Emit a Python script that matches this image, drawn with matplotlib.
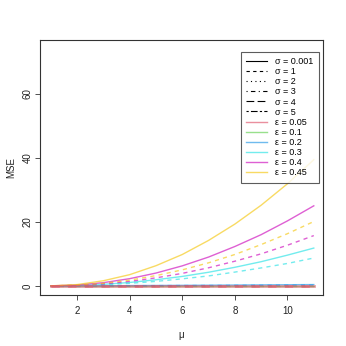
import matplotlib
matplotlib.use("Agg")
import matplotlib.pyplot as plt
from matplotlib.lines import Line2D

plt.rcParams['font.family'] = ['Liberation Sans', 'DejaVu Sans']

mu = [1, 2, 3, 4, 5, 6, 7, 8, 9, 10, 11]

sigmas = ["0.001", "1", "2", "3", "4", "5"]
sigma_styles = ["-", (0, (3, 3)), (0, (1, 3)), (0, (1, 3, 4, 3)), (0, (7, 3)), (0, (2, 2, 6, 2))]

eps_labels = ["0.05", "0.1", "0.2", "0.3", "0.4", "0.45"]
eps_colors = ["#DF536B", "#61D04F", "#2297E6", "#28E2E5", "#CD0BBC", "#F5C710"]

# MSE for sigma = 0.001 (solid), per epsilon
mse_s0 = {
    "0.05": [0, 0, 0, 0, 0, 0, 0, 0, 0, 0, 0],
    "0.1":  [0, 0, 0, 0, 0, 0, 0, 0, 0, 0, 0],
    "0.2":  [0, 0.02, 0.05, 0.08, 0.12, 0.16, 0.2, 0.25, 0.3, 0.35, 0.4],
    "0.3":  [0, 0.12, 0.47, 1.06, 1.9, 2.95, 4.25, 5.8, 7.55, 9.6, 11.8],
    "0.4":  [0, 0.25, 1.0, 2.25, 4.0, 6.25, 9.0, 12.3, 16.0, 20.3, 25.0],
    "0.45": [0, 0.4, 1.6, 3.5, 6.3, 9.8, 14.2, 19.3, 25.2, 31.9, 39.4],
}
# MSE for sigma = 1 (dashed), per epsilon
mse_s1 = {
    "0.05": [0, 0, 0, 0, 0, 0, 0, 0, 0, 0, 0],
    "0.1":  [0, 0, 0, 0, 0, 0, 0, 0, 0, 0, 0],
    "0.2":  [0, 0.01, 0.03, 0.05, 0.07, 0.1, 0.12, 0.15, 0.18, 0.21, 0.25],
    "0.3":  [0, 0.09, 0.35, 0.78, 1.4, 2.2, 3.1, 4.3, 5.6, 7.0, 8.7],
    "0.4":  [0, 0.16, 0.63, 1.4, 2.5, 3.9, 5.65, 7.7, 10.0, 12.7, 15.7],
    "0.45": [0, 0.2, 0.8, 1.8, 3.2, 5.0, 7.2, 9.8, 12.9, 16.3, 20.1],
}

fig = plt.figure(figsize=(3.46, 3.46), dpi=100)
ax = fig.add_axes([0.1165, 0.147, 0.8170, 0.7365])

order = ["0.1", "0.2", "0.3", "0.4", "0.45"]
for e in order:
    c = eps_colors[eps_labels.index(e)]
    ax.plot(mu, mse_s1[e], color=c, alpha=0.65, lw=1.0, linestyle=sigma_styles[1])
    ax.plot(mu, mse_s0[e], color=c, alpha=0.65, lw=1.0, linestyle=sigma_styles[0])
c = eps_colors[0]
ax.plot(mu, mse_s1["0.05"], color=c, alpha=0.55, lw=2.0, linestyle=sigma_styles[1])
ax.plot(mu, mse_s0["0.05"], color=c, alpha=0.55, lw=2.0, linestyle=sigma_styles[0])

ax.set_xlim(0.6, 11.35)
ax.set_ylim(-2.9, 76.7)
ax.set_xticks([2, 4, 6, 8, 10])
ax.set_yticks([0, 20, 40, 60])
ax.tick_params(axis='both', labelsize=7, length=3.6, width=0.6, color='#333333', labelcolor='#222222')
ax.tick_params(axis='x', pad=4.5)
ax.tick_params(axis='y', pad=2.0)
for lab in ax.get_yticklabels():
    lab.set_rotation(90)
    lab.set_va('center')
for s in ax.spines.values():
    s.set_linewidth(0.8)
    s.set_color('#333333')

ax.set_xlabel("μ", fontsize=7, labelpad=10, color='#222222')
ax.set_ylabel("MSE", fontsize=7, labelpad=8, color='#222222')
ax.yaxis.set_label_coords(-0.085, 0.5)

handles = []
labels = []
for s, ls in zip(sigmas, sigma_styles):
    handles.append(Line2D([], [], color='black', lw=0.8, linestyle=ls))
    labels.append("σ = " + s)
for e, c in zip(eps_labels, eps_colors):
    handles.append(Line2D([], [], color=c, lw=1.0, alpha=0.65))
    labels.append("ε = " + e)

leg = ax.legend(handles, labels, loc='upper right', bbox_to_anchor=(0.985, 0.955),
                fontsize=6.5, frameon=True, fancybox=False, edgecolor='#333333',
                handlelength=2.3, handletextpad=0.9, labelspacing=0.12,
                borderpad=0.6, borderaxespad=0.0)
leg.get_frame().set_linewidth(0.8)

fig.savefig("out.png", dpi=100)
